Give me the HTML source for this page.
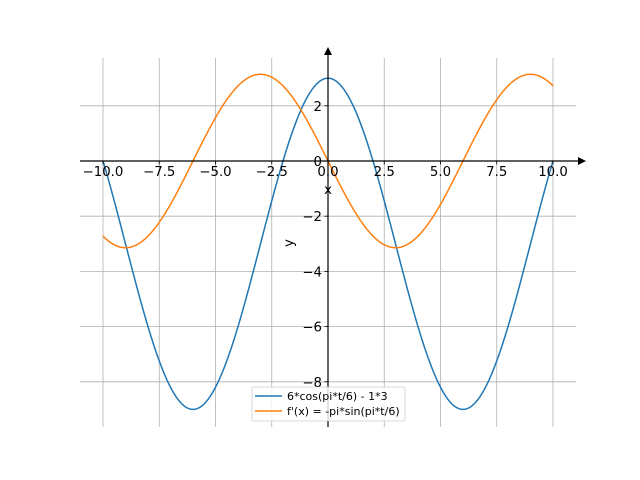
<!DOCTYPE html>
<html><head><meta charset="utf-8"><style>body{margin:0;background:#fff}svg{display:block}text{font-family:"DejaVu Sans","Liberation Sans",sans-serif}</style></head>
<body>
<svg id="s" width="640" height="480" xmlns="http://www.w3.org/2000/svg"></svg>
<script>
const s=document.getElementById('s');
const X=x=>328+x*22.5, Y=y=>161-y*27.6;
let h='';
for(let i=-4;i<=4;i++){const x=X(i*2.5);h+=`<line x1="${x}" y1="58" x2="${x}" y2="427" stroke="#b0b0b0" stroke-width="0.8"/>`;}
for(let v=-8;v<=2;v+=2){const y=Y(v);h+=`<line x1="80" y1="${y}" x2="576" y2="${y}" stroke="#b0b0b0" stroke-width="0.8"/>`;}
function path(f,c){let d='';for(let i=0;i<=800;i++){const t=-10+20*i/800;d+=(i?'L':'M')+X(t).toFixed(2)+','+Y(f(t)).toFixed(2);}return `<path d="${d}" fill="none" stroke="${c}" stroke-width="1.5"/>`;}
h+=path(t=>6*Math.cos(Math.PI*t/6)-3,'#1f77b4');
h+=path(t=>-Math.PI*Math.sin(Math.PI*t/6),'#ff7f0e');
h+=`<line x1="80" y1="161" x2="580" y2="161" stroke="#000" stroke-width="1.2"/><polygon points="586,161 578,157 578,165" fill="#000"/>`;
h+=`<line x1="328" y1="427" x2="328" y2="53" stroke="#000" stroke-width="1.2"/><polygon points="328,47 324,55 332,55" fill="#000"/>`;
for(let i=-4;i<=4;i++){const v=i*2.5,x=X(v);h+=`<line x1="${x}" y1="161" x2="${x}" y2="164.5" stroke="#000" stroke-width="0.8"/><text x="${x}" y="176" font-size="13.3" text-anchor="middle">${v<0?'\u2212':''}${Math.abs(v).toFixed(1)}</text>`;}
for(let v=-8;v<=2;v+=2){const y=Y(v);h+=`<line x1="324.5" y1="${y}" x2="328" y2="${y}" stroke="#000" stroke-width="0.8"/><text x="322" y="${y+5}" font-size="13.3" text-anchor="end">${v<0?'\u2212':''}${Math.abs(v)}</text>`;}
h+=`<text x="328" y="194" font-size="13.3" text-anchor="middle">x</text>`;
h+=`<text transform="translate(293,243) rotate(-90)" font-size="13.3" text-anchor="middle">y</text>`;
h+=`<rect x="252" y="387" width="153" height="34" rx="2" fill="#fff" fill-opacity="0.8" stroke="#ccc" stroke-width="0.8"/>`;
h+=`<line x1="255" y1="396" x2="282" y2="396" stroke="#1f77b4" stroke-width="1.5"/><text x="287" y="400" font-size="11">6*cos(pi*t/6) - 1*3</text>`;
h+=`<line x1="255" y1="411" x2="282" y2="411" stroke="#ff7f0e" stroke-width="1.5"/><text x="287" y="415" font-size="11">f'(x) = -pi*sin(pi*t/6)</text>`;
s.innerHTML=h;
</script>
</body></html>
